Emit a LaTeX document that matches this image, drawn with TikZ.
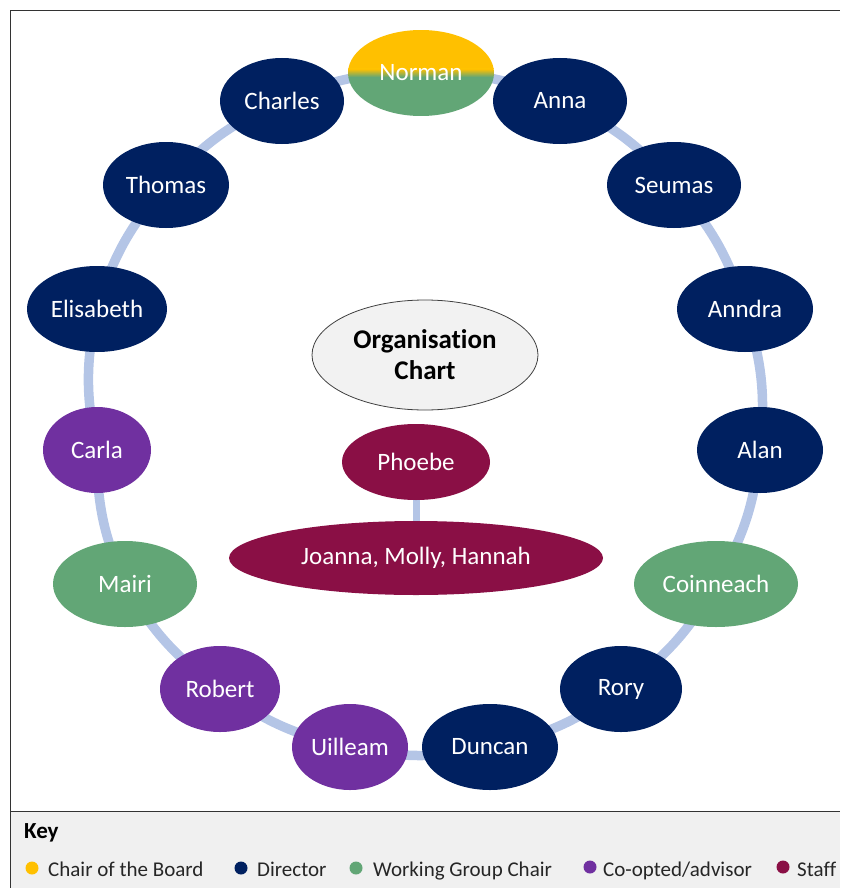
\documentclass[tikz,border=0pt]{standalone}
\usepackage{fontspec}
\setmainfont{Carlito}[Ligatures=NoCommon]
\usetikzlibrary{shapes.geometric,backgrounds}

\definecolor{chairyellow}{HTML}{FFC000}
\definecolor{directornavy}{HTML}{002060}
\definecolor{groupgreen}{HTML}{62A676}
\definecolor{advisorpurple}{HTML}{7030A0}
\definecolor{staffmaroon}{HTML}{8A0F45}
\definecolor{ringblue}{HTML}{B4C5E6}
\definecolor{keygrey}{HTML}{F0F0F0}
\definecolor{titlegrey}{HTML}{F2F2F2}

\tikzset{
  member/.style={ellipse, inner sep=0pt, minimum height=86pt,
    text=white, font=\fontsize{25}{29}\selectfont},
  director/.style={member, fill=directornavy},
  groupchair/.style={member, fill=groupgreen},
  advisor/.style={member, fill=advisorpurple},
  staff/.style={member, fill=staffmaroon},
  ring/.style={ringblue, line width=9.5pt},
  stafflink/.style={ringblue, line width=7pt},
  frameline/.style={black!80, line width=1pt},
  keydot/.style={circle, inner sep=0pt, minimum size=13pt},
  keytext/.style={anchor=base west, inner sep=0pt, text=black!85,
    font=\fontsize{21}{24}\selectfont},
}

\begin{document}
\begin{tikzpicture}[x=1pt, y=-1pt]
  \useasboundingbox (0,0) rectangle (840,888);

  % outer frame and key panel
  \fill[keygrey] (10,811) rectangle (840,888);
  \draw[frameline] (10,888) -- (10,11) -- (840,11);
  \draw[frameline] (10,811) -- (840,811);

  % ring of board members
  \node[member, minimum width=146pt,
    path picture={
      \fill[chairyellow] (path picture bounding box.north west)
        rectangle ([yshift=4pt]path picture bounding box.east);
      \fill[groupgreen] ([yshift=-4pt]path picture bounding box.west)
        rectangle (path picture bounding box.south east);
      \shade[top color=chairyellow, bottom color=groupgreen]
        ([yshift=4pt]path picture bounding box.west)
        rectangle ([yshift=-4pt]path picture bounding box.east);
    }] (norman) at (421,73) {Norman};
  \node[director, minimum width=134pt] (anna) at (560,101) {Anna};
  \node[director, minimum width=134pt] (seumas) at (674,185) {Seumas};
  \node[director, minimum width=136pt] (anndra) at (745,309) {Anndra};
  \node[director, minimum width=126pt] (alan) at (760,450) {Alan};
  \node[groupchair, minimum width=164pt] (coinneach) at (716,584) {Coinneach};
  \node[director, minimum width=122pt] (rory) at (621,689) {Rory};
  \node[director, minimum width=136pt] (duncan) at (490,747) {Duncan};
  \node[advisor, minimum width=116pt] (uilleam) at (350,747) {Uilleam};
  \node[advisor, minimum width=120pt] (robert) at (220,689) {Robert};
  \node[groupchair, minimum width=144pt] (mairi) at (125,584) {Mairi};
  \node[advisor, minimum width=108pt] (carla) at (97,450) {Carla};
  \node[director, minimum width=140pt] (elisabeth) at (97,309) {Elisabeth};
  \node[director, minimum width=126pt] (thomas) at (166,185) {Thomas};
  \node[director, minimum width=124pt] (charles) at (282,101) {Charles};

  % title and staff
  \node[ellipse, draw=black!75, line width=0.8pt, fill=titlegrey,
    minimum width=226pt, minimum height=110pt, inner sep=0pt, align=center,
    font=\bfseries\fontsize{27}{31}\selectfont] (title) at (425,355)
    {Organisation\\Chart};
  \node[staff, minimum width=148pt, minimum height=76pt] (phoebe) at (416,462) {Phoebe};
  \node[staff, minimum width=374pt, minimum height=74pt] (team) at (416,558)
    {Joanna, Molly, Hannah};

  % connectors behind the members
  \begin{pgfonlayer}{background}
    \foreach \a/\b in {norman/anna, anna/seumas, seumas/anndra, anndra/alan,
        alan/coinneach, coinneach/rory, rory/duncan, duncan/uilleam,
        uilleam/robert, robert/mairi, mairi/carla, carla/elisabeth,
        elisabeth/thomas, thomas/charles, charles/norman}
      \draw[ring] (\a.center) to[bend left=12] (\b.center);
    \draw[stafflink] (phoebe.center) -- (team.center);
  \end{pgfonlayer}

  % key
  \node[anchor=base west, inner sep=0pt, font=\bfseries\fontsize{23}{26}\selectfont]
    (keytitle) at (24,838) {Key};
  \node[keydot, fill=chairyellow] (dotchair) at (32,868) {};
  \node[keytext] (txtchair) at (48,876) {Chair of the Board};
  \node[keydot, fill=directornavy] (dotdirector) at (241,868) {};
  \node[keytext] (txtdirector) at (257,876) {Director};
  \node[keydot, fill=groupgreen] (dotgroup) at (356,868) {};
  \node[keytext] (txtgroup) at (373,876) {Working Group Chair};
  \node[keydot, fill=advisorpurple] (dotadvisor) at (590,867) {};
  \node[keytext] (txtadvisor) at (603,876) {Co-opted/advisor};
  \node[keydot, fill=staffmaroon] (dotstaff) at (783,867) {};
  \node[keytext] (txtstaff) at (797,876) {Staff};
\end{tikzpicture}
\end{document}
